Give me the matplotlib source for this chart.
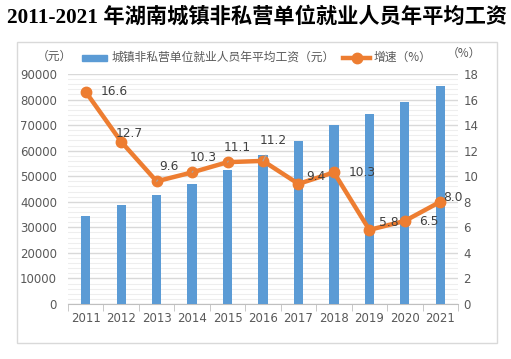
import matplotlib
matplotlib.use("Agg")
import matplotlib.pyplot as plt
from matplotlib.patches import Rectangle
from matplotlib.lines import Line2D
from matplotlib.ticker import MultipleLocator

plt.rcParams['font.family'] = ['DejaVu Sans', 'Noto Sans CJK SC']

years = ['2011', '2012', '2013', '2014', '2015', '2016', '2017', '2018', '2019', '2020', '2021']
wages = [34400, 38900, 42700, 47100, 52400, 58200, 63700, 70200, 74300, 79000, 85300]
growth = [16.6, 12.7, 9.6, 10.3, 11.1, 11.2, 9.4, 10.3, 5.8, 6.5, 8.0]
growth_labels = ['16.6', '12.7', '9.6', '10.3', '11.1', '11.2', '9.4', '10.3', '5.8', '6.5', '8.0']

title = '2011-2021 年湖南城镇非私营单位就业人员年平均工资'
bar_name = '城镇非私营单位就业人员年平均工资（元）'
line_name = '增速（%）'

W, H = 511, 359
fig = plt.figure(figsize=(W / 100, H / 100), dpi=100)
TXT = '#595959'
BLUE = '#5B9BD5'
ORANGE = '#ED7D31'

def fx(px):
    return px / W

def fy(py):
    return 1 - py / H

# outer border
fig.add_artist(Rectangle((fx(17), fy(343)), fx(497) - fx(17), fy(42) - fy(343),
                         transform=fig.transFigure, fill=False, edgecolor='#D9D9D9', lw=1))

fig.text(fx(257), fy(17), title, ha='center', va='center', fontsize=15.3, fontweight='bold',
         family=['Liberation Serif', 'Noto Sans CJK SC'], color='black')

ax = fig.add_axes([fx(68), fy(304), fx(458) - fx(68), fy(74) - fy(304)])
x = list(range(len(years)))
ax.bar(x, wages, width=0.26, color=BLUE, zorder=3)
ax.set_ylim(0, 90000)
ax.set_xlim(-0.5, len(years) - 0.5)
ax.yaxis.set_major_locator(MultipleLocator(10000))
ax.yaxis.set_minor_locator(MultipleLocator(2000))
ax.grid(axis='y', which='major', color='#D9D9D9', lw=1, zorder=0)
ax.grid(axis='y', which='minor', color='#EEEEEE', lw=0.8, zorder=0)
ax.set_axisbelow(True)
for s in ['top', 'right', 'left']:
    ax.spines[s].set_visible(False)
ax.spines['bottom'].set_color('#BFBFBF')
ax.set_xticks(x)
ax.set_xticklabels(years)
ax.set_xticks([i - 0.5 for i in range(len(years) + 1)], minor=True)
ax.tick_params(axis='x', which='major', length=0, pad=6, labelsize=8.5, colors=TXT)
ax.tick_params(axis='x', which='minor', length=5, color='#BFBFBF')
ax.tick_params(axis='y', which='both', length=0, labelsize=8.5, colors=TXT, pad=8)

ax2 = ax.twinx()
ax2.set_ylim(0, 18)
ax2.yaxis.set_major_locator(MultipleLocator(2))
for s in ['top', 'right', 'left', 'bottom']:
    ax2.spines[s].set_visible(False)
ax2.tick_params(axis='y', length=0, labelsize=8.5, colors=TXT, pad=4)
ax2.plot(x, growth, color=ORANGE, lw=3.2, marker='o', ms=7.5, zorder=5)

offsets = [(29, 0), (8, 8), (12, 15), (11, 15), (10, 15), (10, 20),
           (17, 7), (28, 0), (19, 7), (24, -1), (13, 4)]
leaders = [False, False, True, True, True, True, False, False, False, False, False]
for i, (g, lab) in enumerate(zip(growth, growth_labels)):
    dx, dy = offsets[i]
    kw = {}
    if leaders[i]:
        kw['arrowprops'] = dict(arrowstyle='-', color='#A6A6A6', lw=0.8, shrinkA=4, shrinkB=5)
    ax2.annotate(lab, (i, g), xytext=(dx, dy), textcoords='offset pixels',
                 ha='center', va='center', fontsize=8.8, color='#404040', zorder=6, **kw)

# axis unit labels
fig.text(fx(54), fy(56), '（元）', ha='center', va='center', fontsize=8.5, color=TXT,
         family=['Noto Sans CJK SC'])
fig.text(fx(464), fy(53), '（%）', ha='center', va='center', fontsize=8.5, color=TXT,
         family=['Noto Sans CJK SC'])

# legend
fig.add_artist(Rectangle((fx(82), fy(61)), fx(107) - fx(82), fy(55) - fy(61),
                         transform=fig.transFigure, color=BLUE))
fig.text(fx(112), fy(57), bar_name, ha='left', va='center', fontsize=8.5, color=TXT,
         family=['Noto Sans CJK SC'])
fig.add_artist(Line2D([fx(343), fx(370)], [fy(58), fy(58)], transform=fig.transFigure,
                      color=ORANGE, lw=3.2))
fig.add_artist(Line2D([fx(356.5)], [fy(58)], transform=fig.transFigure, color=ORANGE,
                      marker='o', ms=7.5))
fig.text(fx(374), fy(57), line_name, ha='left', va='center', fontsize=8.5, color=TXT,
         family=['Noto Sans CJK SC'])

fig.savefig('out.png', dpi=100)
